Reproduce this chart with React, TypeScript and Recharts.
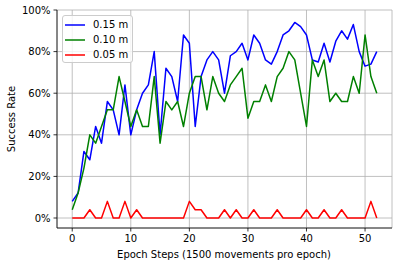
import React from 'react';
import { LineChart, Line, XAxis, YAxis, CartesianGrid, Legend } from 'recharts';

const epochs = [
  0, 1, 2, 3, 4, 5, 6, 7, 8, 9, 10, 11, 12, 13, 14, 15, 16, 17, 18, 19, 20, 21, 22, 23, 24, 25, 26,
  27, 28, 29, 30, 31, 32, 33, 34, 35, 36, 37, 38, 39, 40, 41, 42, 43, 44, 45, 46, 47, 48, 49, 50, 51, 52,
];

const rate015 = [
  8, 12, 32, 28, 44, 36, 56, 52, 40, 64, 40, 52, 60, 64, 80, 40, 72, 68, 56, 88, 84, 44, 68, 76, 80, 76, 60,
  78, 80, 84, 76, 88, 84, 76, 74, 80, 88, 90, 94, 92, 88, 76, 75, 84, 75, 85, 90, 86, 93, 80, 73, 74, 80,
];

const rate010 = [
  4, 12, 24, 40, 36, 44, 52, 52, 68, 56, 44, 52, 44, 44, 68, 36, 56, 52, 56, 44, 60, 68, 68, 52, 68, 60, 56,
  64, 68, 72, 48, 56, 56, 64, 56, 68, 72, 80, 76, 60, 44, 76, 68, 76, 56, 60, 56, 56, 68, 60, 88, 68, 60,
];

const rate005 = [
  0, 0, 0, 4, 0, 0, 8, 0, 0, 8, 0, 4, 0, 0, 0, 0, 0, 0, 0, 0, 8, 4, 4, 0, 0, 0, 4,
  0, 4, 0, 0, 4, 0, 0, 0, 4, 0, 0, 0, 0, 4, 0, 0, 4, 0, 0, 4, 0, 0, 0, 0, 8, 0,
];

const seriesNames = ['0.15 m', '0.10 m', '0.05 m'];
const xTicks = [0, 10, 20, 30, 40, 50];
const yTicks = [0, 20, 40, 60, 80, 100];

const data = epochs.map((e, i) => ({
  epoch: e,
  s015: rate015[i],
  s010: rate010[i],
  s005: rate005[i],
}));

const FONT = "'DejaVu Sans', sans-serif";

const renderLegend = (props: any) => {
  const payload = [...(props.payload || [])].sort(
    (a: any, b: any) => seriesNames.indexOf(a.value) - seriesNames.indexOf(b.value)
  );
  return (
    <div
      style={{
        position: 'absolute',
        left: 62,
        top: 15,
        width: 71,
        height: 48,
        boxSizing: 'border-box',
        border: '1px solid #cccccc',
        borderRadius: 3,
        background: 'rgba(255,255,255,0.8)',
        fontFamily: FONT,
        fontSize: 10,
        color: '#000',
      }}
    >
      {payload.map((p: any, i: number) => (
        <div
          key={i}
          style={{
            position: 'absolute',
            left: 2,
            top: 4 + i * 15,
            height: 10,
            display: 'flex',
            alignItems: 'center',
            whiteSpace: 'nowrap',
          }}
        >
          <svg width={20} height={10} style={{ display: 'block' }}>
            <line x1={0} y1={5} x2={20} y2={5} stroke={p.color} strokeWidth={1.5} />
          </svg>
          <span style={{ marginLeft: 8, lineHeight: '10px' }}>{p.value}</span>
        </div>
      ))}
    </div>
  );
};

export default function App() {
  return (
    <div style={{ position: 'absolute', left: 0, top: 0, width: 398, height: 266, background: '#fff' }}>
      <LineChart
        width={398}
        height={266}
        data={data}
        margin={{ top: 10, right: 6, bottom: 0, left: 0 }}
      >
        <CartesianGrid stroke="#b0b0b0" strokeWidth={0.8} />
        <XAxis
          dataKey="epoch"
          type="number"
          domain={[-2.6, 54.6]}
          ticks={xTicks}
          allowDataOverflow
          height={38}
          tickSize={3.5}
          tickMargin={3}
          axisLine={{ stroke: '#000', strokeWidth: 0.8 }}
          tickLine={{ stroke: '#000', strokeWidth: 0.8 }}
          tick={{ fill: '#000', fontSize: 10, fontFamily: FONT }}
          label={{
            content: () => (
              <text
                x={224}
                y={254}
                textAnchor="middle"
                dominantBaseline="central"
                fontFamily={FONT}
                fontSize={10}
                fill="#000"
              >
                Epoch Steps (1500 movements pro epoch)
              </text>
            ),
          }}
        />
        <XAxis
          xAxisId="top"
          orientation="top"
          dataKey="epoch"
          type="number"
          domain={[-2.6, 54.6]}
          height={0}
          tick={false}
          tickLine={false}
          axisLine={{ stroke: '#000', strokeWidth: 0.8 }}
        />
        <YAxis
          type="number"
          domain={[-4.8, 100]}
          ticks={yTicks}
          allowDataOverflow
          width={57}
          tickSize={3.5}
          tickMargin={3}
          tickFormatter={(v: number) => `${v}%`}
          axisLine={{ stroke: '#000', strokeWidth: 0.8 }}
          tickLine={{ stroke: '#000', strokeWidth: 0.8 }}
          tick={{ fill: '#000', fontSize: 10, fontFamily: FONT }}
          label={{
            content: () => (
              <text
                x={11}
                y={119}
                transform="rotate(-90 11 119)"
                textAnchor="middle"
                dominantBaseline="central"
                fontFamily={FONT}
                fontSize={10}
                fill="#000"
              >
                Success Rate
              </text>
            ),
          }}
        />
        <YAxis
          yAxisId="right"
          orientation="right"
          type="number"
          domain={[-4.8, 100]}
          width={0}
          tick={false}
          tickLine={false}
          axisLine={{ stroke: '#000', strokeWidth: 0.8 }}
        />
        <Legend
          layout="horizontal"
          verticalAlign="middle"
          align="center"
          content={renderLegend}
          wrapperStyle={{ left: 0, top: 0, width: 0, height: 0 }}
        />
        <Line
          dataKey="s015"
          name={seriesNames[0]}
          stroke="#0000ff"
          strokeWidth={1.5}
          strokeLinejoin="round"
          dot={false}
          isAnimationActive={false}
        />
        <Line
          dataKey="s010"
          name={seriesNames[1]}
          stroke="#008000"
          strokeWidth={1.5}
          strokeLinejoin="round"
          dot={false}
          isAnimationActive={false}
        />
        <Line
          dataKey="s005"
          name={seriesNames[2]}
          stroke="#ff0000"
          strokeWidth={1.5}
          strokeLinejoin="round"
          dot={false}
          isAnimationActive={false}
        />
      </LineChart>
    </div>
  );
}
